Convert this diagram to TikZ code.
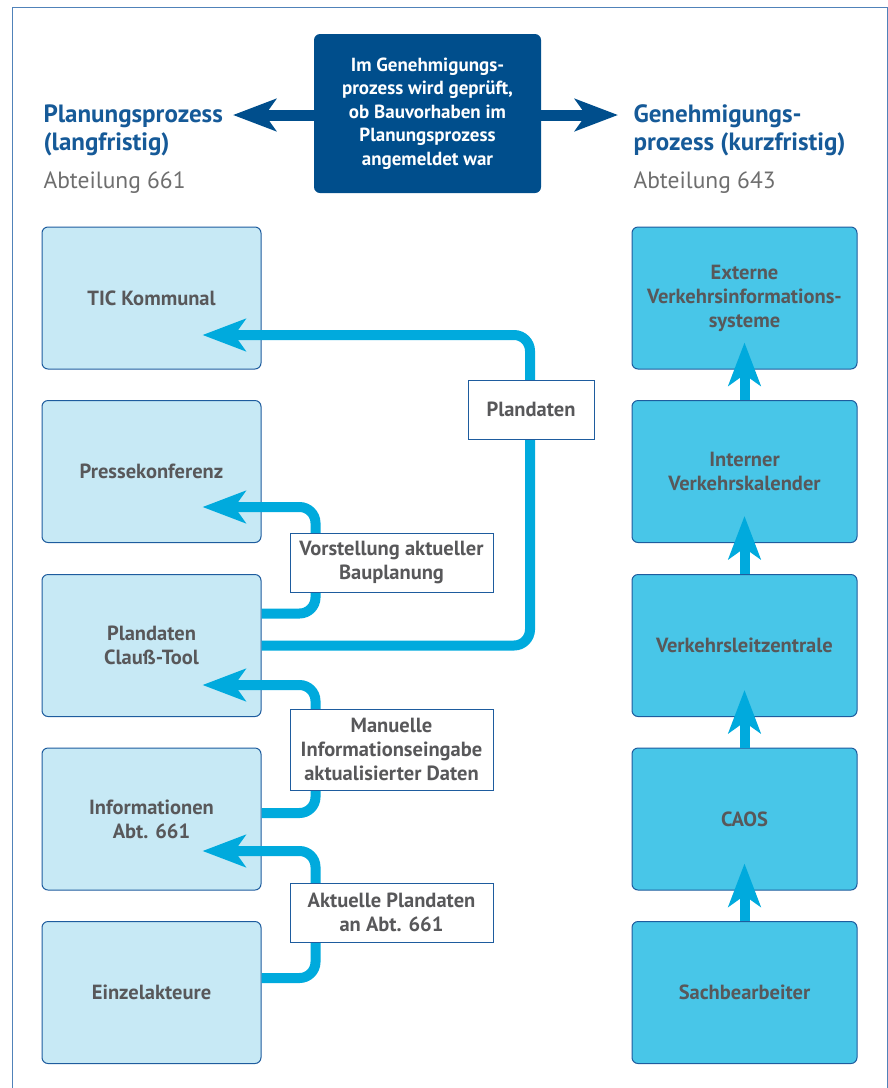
\documentclass[tikz,border=0pt]{standalone}
\usepackage{fontspec}
\setmainfont{PT Sans}
\usetikzlibrary{arrows.meta}

\definecolor{headblue}{RGB}{22,90,152}
\definecolor{subgrey}{RGB}{110,110,110}
\definecolor{boxtext}{RGB}{88,88,90}
\definecolor{boxline}{RGB}{30,92,158}
\definecolor{planfill}{RGB}{199,233,245}
\definecolor{genfill}{RGB}{72,198,232}
\definecolor{flowcyan}{RGB}{0,170,221}
\definecolor{darkblue}{RGB}{0,78,140}
\definecolor{framecol}{RGB}{80,130,185}

\begin{document}
\begin{tikzpicture}[x=1pt,y=-1pt,
    planbox/.style={draw=boxline,fill=planfill,line width=1pt,rounded corners=6pt,
      minimum width=219pt,minimum height=142pt,align=center,text=boxtext,
      font=\fontsize{20.5}{24}\selectfont\bfseries},
    genbox/.style={planbox,fill=genfill,minimum width=225pt},
    labelbox/.style={draw=boxline,fill=white,line width=1pt,align=center,text=boxtext,
      minimum width=203pt,minimum height=59pt,inner sep=2pt,
      font=\fontsize{20.5}{24}\selectfont\bfseries},
    heading/.style={anchor=base west,align=left,text=headblue,
      font=\fontsize{25}{28}\selectfont\bfseries},
    subhead/.style={anchor=base west,text=subgrey,font=\fontsize{23.5}{28}\selectfont},
    flow/.style={draw=flowcyan,line width=10pt,rounded corners=16pt,
      -{Stealth[length=43pt,width=32pt,inset=11pt]}},
    bigarrow/.style={draw=darkblue,line width=11pt,
      -{Stealth[length=43pt,width=32pt,inset=11pt]}}]
    \useasboundingbox (0,0) rectangle (888,1088);
    \draw[framecol,line width=1pt] (12,1088) |- (887,7) -- (887,1088);

    % Kopfzeile
    \node[heading] (plan) at (40,150) {Planungsprozess\\(langfristig)};
    \node[subhead] (abt661) at (40,188) {Abteilung 661};
    \node[heading] (gen) at (630,150) {Genehmigungs-\\prozess (kurzfristig)};
    \node[subhead] (abt643) at (630,188) {Abteilung 643};
    \node[fill=darkblue,rounded corners=6pt,minimum width=227pt,minimum height=159pt,
      align=center,text=white,font=\fontsize{19}{23.5}\selectfont\bfseries]
      (pruef) at (427.5,113.5)
      {Im Genehmigungs-\\prozess wird geprüft,\\ob Bauvorhaben im\\Planungsprozess\\angemeldet war};
    \coordinate (tipL) at (233,115);
    \coordinate (tipR) at (618,115);
    \draw[bigarrow] (pruef.west |- tipL) -- (tipL);
    \draw[bigarrow] (pruef.east |- tipR) -- (tipR);

    % Planungsprozess
    \node[planbox] (tic) at (151.5,298) {TIC Kommunal};
    \node[planbox] (presse) at (151.5,471.5) {Pressekonferenz};
    \node[planbox] (clauss) at (151.5,645.5) {Plandaten\\Clauß-Tool};
    \node[planbox] (info) at (151.5,819) {Informationen\\Abt. 661};
    \node[planbox] (einzel) at (151.5,992.5) {Einzelakteure};

    \coordinate (tipA) at ([xshift=-59pt,yshift=-37pt]tic.east);
    \coordinate (tipB) at ([xshift=-59pt,yshift=-35.5pt]presse.east);
    \coordinate (tipC) at ([xshift=-59pt,yshift=-39.5pt]clauss.east);
    \coordinate (tipD) at ([xshift=-59pt,yshift=-32pt]info.east);

    \draw[flow] (clauss.east) -| (530,400) |- (tipA);
    \draw[flow] ([yshift=32pt]clauss.east) -- ++(54,0) |- (tipB);
    \draw[flow] ([yshift=6pt]info.east) -- ++(54,0) |- (tipC);
    \draw[flow] ([yshift=14.5pt]einzel.east) -- ++(54,0) |- (tipD);

    \node[labelbox,minimum width=126pt] (lplan) at (531,409.5) {Plandaten};
    \node[labelbox] (lvorst) at (391.5,562.5) {Vorstellung aktueller\\Bauplanung};
    \node[labelbox,minimum height=81pt] (lmanu) at (391.5,749.5)
      {Manuelle\\Informationseingabe\\aktualisierter Daten};
    \node[labelbox] (lakt) at (391.5,912.5) {Aktuelle Plandaten\\an Abt. 661};

    % Genehmigungsprozess
    \node[genbox] (extern) at (744.5,298) {Externe\\Verkehrsinformations-\\systeme};
    \node[genbox] (intern) at (744.5,471.5) {Interner\\Verkehrskalender};
    \node[genbox] (leit) at (744.5,645.5) {Verkehrsleitzentrale};
    \node[genbox] (caos) at (744.5,819) {CAOS};
    \node[genbox] (sach) at (744.5,992.5) {Sachbearbeiter};

    \draw[flow] (sach.north) -- ([yshift=27pt]caos.south);
    \draw[flow] (caos.north) -- ([yshift=27pt]leit.south);
    \draw[flow] (leit.north) -- ([yshift=27pt]intern.south);
    \draw[flow] (intern.north) -- ([yshift=27pt]extern.south);
  \end{tikzpicture}
\end{document}
